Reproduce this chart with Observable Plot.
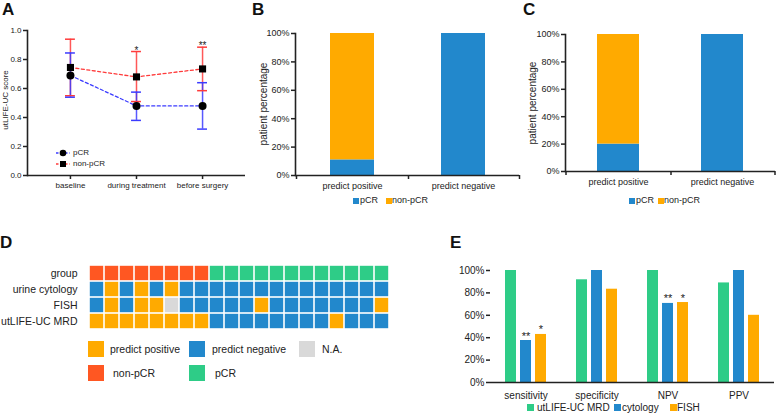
<!DOCTYPE html>
<html><head><meta charset="utf-8">
<script src="https://cdn.jsdelivr.net/npm/d3@7"></script>
<script src="https://cdn.jsdelivr.net/npm/@observablehq/plot@0.6"></script>
<style>
body{margin:0;background:#fff;font-family:"Liberation Sans",Arial,sans-serif;color:#222;}
#root{position:relative;width:777px;height:415px;overflow:hidden;}
#root svg{overflow:visible;}
.letter{position:absolute;font-weight:bold;font-size:17px;line-height:17px;color:#111;}
.t{position:absolute;white-space:nowrap;color:#222;}
.sw{position:absolute;}
</style></head><body><div id="root"></div>
<script>
// ---------- data ----------
const timepoints = ["baseline", "during treatment", "before surgery"];
const pcrMean  = [0.69, 0.48, 0.48];
const pcrLow   = [0.54, 0.38, 0.32];
const pcrHigh  = [0.845, 0.575, 0.64];
const nonMean  = [0.745, 0.68, 0.735];
const nonLow   = [0.55, 0.51, 0.585];
const nonHigh  = [0.94, 0.855, 0.885];
const aStars   = ["", "*", "**"];
const aYTicks  = [0, 0.2, 0.4, 0.6, 0.8, 1.0];

const predictCats = ["predict positive", "predict negative"];
const bPcr = [11, 100];
const bNon = [89, 0];
const cPcr = [20, 100];
const cNon = [80, 0];
const pctTicks = [0, 20, 40, 60, 80, 100];

const heatRows = ["group", "urine cytology", "FISH", "utLIFE-UC MRD"];
const groupRow = ["non-pCR","non-pCR","non-pCR","non-pCR","non-pCR","non-pCR","non-pCR","non-pCR","pCR","pCR","pCR","pCR","pCR","pCR","pCR","pCR","pCR","pCR","pCR","pCR"];
const cytologyRow = ["neg","pos","neg","pos","neg","pos","neg","neg","neg","neg","neg","neg","neg","neg","neg","neg","neg","neg","neg","neg"];
const fishRow = ["neg","pos","neg","pos","pos","NA","neg","neg","neg","neg","neg","pos","neg","neg","neg","neg","neg","neg","neg","pos"];
const mrdRow = ["pos","pos","pos","pos","pos","pos","pos","pos","neg","neg","neg","neg","neg","neg","neg","neg","pos","neg","neg","neg"];
const heatCodes = ["pos", "neg", "NA", "non-pCR", "pCR"];
const heatLabels = ["predict positive", "predict negative", "N.A.", "non-pCR", "pCR"];

const metrics = ["sensitivity", "specificity", "NPV", "PPV"];
const methods = ["utLIFE-UC MRD", "cytology", "FISH"];
const mrdVals  = [100, 91.7, 100, 88.9];
const cytoVals = [37.5, 100, 70.6, 100];
const fishVals = [42.9, 83.3, 71.4, 60];
const cytoStars = ["**", "", "**", ""];
const fishStars = ["*", "", "*", ""];

// ---------- colours ----------
const ORANGE = "#FFAA00", BLUE = "#2288CC", GREEN = "#2ECC87", RED = "#FF5722", GRAY = "#D9D9D9";
const A_RED = "#ff3b3b", A_BLUE = "#3b3bff";
const FONT = "Liberation Sans, Arial, sans-serif";

const root = document.getElementById("root");
function put(el, x, y) { el.style.left = x + "px"; el.style.top = y + "px"; root.appendChild(el); return el; }
function letter(s, x, y) { const d = document.createElement("div"); d.className = "letter"; d.textContent = s; return put(d, x, y); }
function text(s, x, y, size, extra) { const d = document.createElement("div"); d.className = "t"; d.textContent = s; d.style.fontSize = size + "px"; d.style.lineHeight = size + "px"; if (extra) Object.assign(d.style, extra); return put(d, x, y); }
function swatch(color, x, y, w, h) { const d = document.createElement("div"); d.className = "sw"; d.style.background = color; d.style.width = w + "px"; d.style.height = h + "px"; return put(d, x, y); }
function placePlot(p, x, y) { p.style.position = "absolute"; p.style.left = x + "px"; p.style.top = y + "px"; root.appendChild(p); }
function vlabel(s, cx, cy, size) { const d = text(s, 0, 0, size, {transformOrigin: "center", transform: "translate(-50%,-50%) rotate(-90deg)"}); d.style.left = cx + "px"; d.style.top = cy + "px"; }

// ---------- Panel A ----------
const aData = [];
timepoints.forEach((t, i) => {
  aData.push({t: i, g: "non-pCR", m: nonMean[i], lo: nonLow[i], hi: nonHigh[i], star: aStars[i]});
  aData.push({t: i, g: "pCR", m: pcrMean[i], lo: pcrLow[i], hi: pcrHigh[i], star: ""});
});
const plotA = Plot.plot({
  width: 250, height: 200, marginLeft: 27, marginRight: 5, marginTop: 30, marginBottom: 25,
  style: {fontFamily: FONT, fontSize: "8px", color: "#222", background: "transparent"},
  x: {type: "linear", domain: [-0.65, 2.65]},
  y: {domain: [0, 1]},
  color: {domain: ["pCR", "non-pCR"], range: [A_BLUE, A_RED]},
  symbol: {domain: ["pCR", "non-pCR"], range: ["circle", "square"]},
  marks: [
    Plot.ruleX(aData, {x: "t", y1: "lo", y2: "hi", stroke: "g", strokeWidth: 1.5, strokeOpacity: 0.85}),
    Plot.ruleY(aData, {y: "lo", x1: d => d.t - 0.075, x2: d => d.t + 0.075, stroke: "g", strokeWidth: 1.5}),
    Plot.ruleY(aData, {y: "hi", x1: d => d.t - 0.075, x2: d => d.t + 0.075, stroke: "g", strokeWidth: 1.5}),
    Plot.line(aData, {x: "t", y: "m", stroke: "g", z: "g", strokeDasharray: "3,2.5", strokeWidth: 1.3}),
    Plot.dot(aData, {x: "t", y: "m", symbol: "g", fill: "#000", r: 4}),
    Plot.text(aData.filter(d => d.star), {x: "t", y: "hi", text: "star", dy: 2, lineAnchor: "bottom", fontSize: 10}),
    Plot.frame({anchor: "left", strokeWidth: 1.6}),
    Plot.ruleY([0], {strokeWidth: 1.6}),
    Plot.axisY({ticks: aYTicks, tickFormat: d3.format(".1f"), tickSize: 4, tickPadding: 2, label: null, strokeWidth: 1.5}),
    Plot.axisX({ticks: [0, 1, 2], tickFormat: i => timepoints[i], tickSize: 4, tickPadding: 3, label: null, strokeWidth: 1.5})
  ]
});
placePlot(plotA, 0, 0);
letter("A", 2, 1);
vlabel("utLIFE-UC score", 6, 100, 8);
// legend A
(function () {
  const ns = "http://www.w3.org/2000/svg";
  const svg = document.createElementNS(ns, "svg");
  svg.setAttribute("width", 20); svg.setAttribute("height", 24);
  svg.style.position = "absolute"; svg.style.left = "54px"; svg.style.top = "147px";
  svg.innerHTML =
    `<line x1="2" x2="16" y1="6" y2="6" stroke="${A_BLUE}" stroke-width="1.3" stroke-dasharray="2.5,2"/>` +
    `<circle cx="9" cy="6" r="3.3" fill="#000"/>` +
    `<line x1="2" x2="16" y1="17" y2="17" stroke="${A_RED}" stroke-width="1.3" stroke-dasharray="2.5,2"/>` +
    `<rect x="6" y="14" width="6" height="6" fill="#000"/>`;
  root.appendChild(svg);
  text("pCR", 73, 149, 8);
  text("non-pCR", 73, 160, 8);
})();

// ---------- Panels B & C ----------
function stackPanel(pcr, non, opt) {
  const data = predictCats.flatMap((c, i) => [{c, g: "pCR", v: pcr[i]}, {c, g: "non-pCR", v: non[i]}]);
  return Plot.plot({
    width: opt.width, height: 200, marginLeft: opt.ml, marginRight: opt.mr, marginTop: opt.mt, marginBottom: opt.mb,
    style: {fontFamily: FONT, fontSize: "9px", color: "#222", background: "transparent"},
    x: {domain: predictCats, paddingInner: opt.pi, paddingOuter: opt.po},
    y: {domain: [0, 100]},
    color: {domain: ["pCR", "non-pCR"], range: [BLUE, ORANGE]},
    marks: [
      Plot.barY(data, {x: "c", y: "v", fill: "g"}),
      Plot.frame({anchor: "left", strokeWidth: 1.6}),
      Plot.ruleY([0], {strokeWidth: 1.6}),
      Plot.ruleX(predictCats, {x: d => d, y1: 0, y2: 0, insetBottom: -4, dx: opt.half, strokeWidth: 1.5}),
      Plot.ruleX(predictCats.slice(0, 1), {x: d => d, y1: 0, y2: 0, insetBottom: -4, dx: -opt.half, strokeWidth: 1.5}),
      Plot.axisY({ticks: pctTicks, tickFormat: d => d + "%", tickSize: 4, tickPadding: 2, label: null, strokeWidth: 1.5}),
      Plot.axisX({tickSize: 0, tickPadding: 7, label: null})
    ]
  });
}
placePlot(stackPanel(bPcr, bNon, {width: 270, ml: 45, mr: 1, mt: 33, mb: 25, pi: 0.607, po: 0.304, half: 56}), 250, 0);
letter("B", 252, 1);
vlabel("patient percentage", 264, 104, 10);
swatch(BLUE, 353, 198, 6, 6); text("pCR", 360, 196, 9);
swatch(ORANGE, 386, 198, 6, 6); text("non-pCR", 392, 196, 9);

placePlot(stackPanel(cPcr, cNon, {width: 267, ml: 55, mr: 2, mt: 34, mb: 29, pi: 0.6, po: 0.305, half: 52.5}), 510, 0);
letter("C", 523, 1);
vlabel("patient percentage", 533, 103, 10);
swatch(BLUE, 629, 198, 6, 6); text("pCR", 636, 196, 9);
swatch(ORANGE, 658, 198, 6, 6); text("non-pCR", 664, 196, 9);

// ---------- Panel D ----------
const hRowVals = [groupRow, cytologyRow, fishRow, mrdRow];
const hData = [];
heatRows.forEach((r, ri) => hRowVals[ri].forEach((v, ci) => hData.push({row: r, col: ci, val: v})));
const plotD = Plot.plot({
  width: 400, height: 80, marginLeft: 81, marginRight: 3, marginTop: 8, marginBottom: 5,
  style: {fontFamily: FONT, fontSize: "10.5px", color: "#222", background: "transparent"},
  x: {type: "band", padding: 0, axis: null},
  y: {domain: heatRows, padding: 0},
  color: {domain: heatCodes, range: [ORANGE, BLUE, GRAY, RED, GREEN]},
  marks: [
    Plot.cell(hData, {x: "col", y: "row", fill: "val", inset: 0.8}),
    Plot.axisY({tickSize: 0, tickPadding: 4, label: null})
  ]
});
placePlot(plotD, 0, 255);
letter("D", 0, 234);
const dLegCols = [ORANGE, BLUE, GRAY, RED, GREEN];
const dLegPos = [[88, 341, 110], [189, 341, 212], [299, 341, 322], [88, 365, 113], [189, 365, 215]];
heatLabels.forEach((lab, i) => {
  const [x, y, tx] = dLegPos[i];
  swatch(dLegCols[i], x, y, 16, 16);
  text(lab, tx, y + 3, 10.5);
});

// ---------- Panel E ----------
const eData = [];
metrics.forEach((m, i) => {
  eData.push({m, k: methods[0], v: mrdVals[i], s: ""});
  eData.push({m, k: methods[1], v: cytoVals[i], s: cytoStars[i]});
  eData.push({m, k: methods[2], v: fishVals[i], s: fishStars[i]});
});
const plotE = Plot.plot({
  width: 327, height: 150, marginLeft: 38, marginRight: 2, marginTop: 20, marginBottom: 18,
  style: {fontFamily: FONT, fontSize: "10px", color: "#222", background: "transparent"},
  fx: {domain: metrics, padding: 0},
  x: {domain: methods, paddingInner: 0.25, paddingOuter: 0.875, axis: null},
  y: {domain: [0, 100]},
  color: {domain: methods, range: [GREEN, BLUE, ORANGE]},
  marks: [
    Plot.barY(eData, {fx: "m", x: "k", y: "v", fill: "k"}),
    Plot.text(eData.filter(d => d.s), {fx: "m", x: "k", y: "v", text: "s", dy: -1, lineAnchor: "bottom", fontSize: 11}),
    Plot.ruleY([0], {strokeWidth: 1.6}),
    Plot.ruleX(metrics, {fx: d => d, y1: 0, y2: 0, insetBottom: -4, dx: 35.9, strokeWidth: 1.5}),
    Plot.ruleX(metrics.slice(0, 1), {fx: d => d, y1: 0, y2: 100, dx: -35.9, strokeWidth: 1.6}),
    Plot.axisY({ticks: pctTicks, tickFormat: d => d + "%", tickSize: 4, tickPadding: 2, label: null, strokeWidth: 1.5}),
    Plot.axisFx({anchor: "bottom", tickSize: 0, tickPadding: 9, label: null})
  ]
});
placePlot(plotE, 450, 250);
letter("E", 450, 234);
const eLeg = [[GREEN, 527, 537], [BLUE, 614, 622], [ORANGE, 670, 677]];
methods.forEach((mth, i) => {
  const [c, sx, tx] = eLeg[i];
  swatch(c, sx, 404, 7, 7);
  text(mth, tx, 403, 10);
});
</script></body></html>
